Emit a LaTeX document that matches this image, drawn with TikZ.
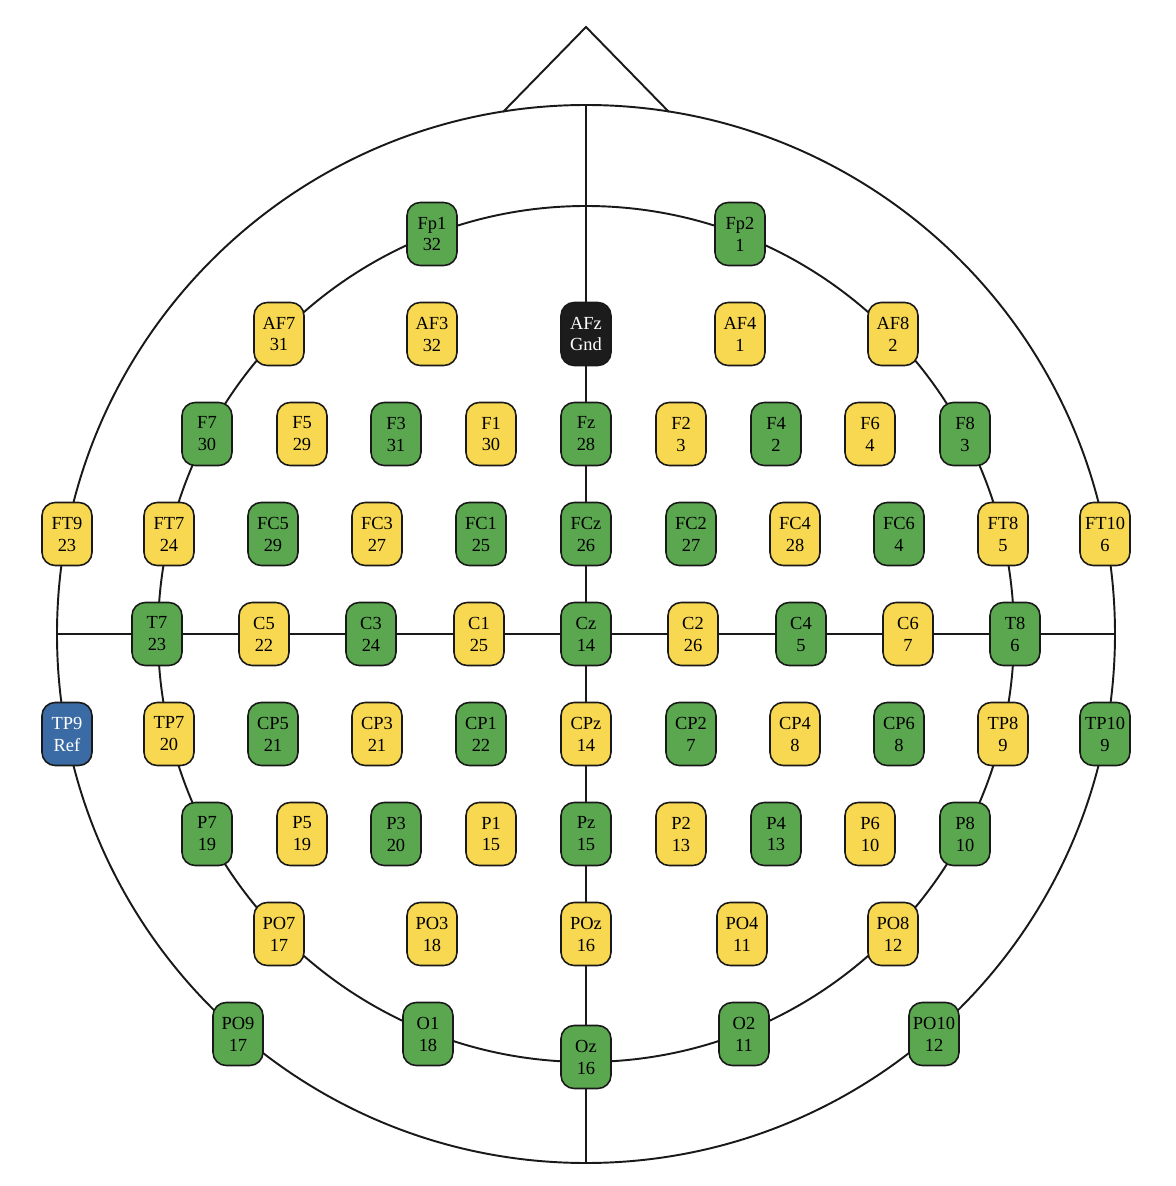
\documentclass[tikz,border=0pt]{standalone}
\usepackage{fontspec}
\setmainfont{Liberation Serif}
\usetikzlibrary{positioning}
\definecolor{elecgreen}{HTML}{5BA750}
\definecolor{elecyellow}{HTML}{F8D850}
\definecolor{elecblue}{HTML}{3A6BA4}
\definecolor{elecblack}{HTML}{1C1C1C}

\begin{document}
\begin{tikzpicture}[x=2cm, y=2cm,
    % Elettrodi
    ampa/.style={rectangle, draw=black!90, fill=elecgreen, line width=0.9pt, minimum width=1cm, minimum height=1.26cm, rounded corners=7.5pt, align=center, inner sep=1pt, font=\fontsize{10.5}{12.5}\selectfont},
    ampb/.style={rectangle, draw=black!90, fill=elecyellow, line width=0.9pt, minimum width=1cm, minimum height=1.26cm, rounded corners=7.5pt, align=center, inner sep=1pt, font=\fontsize{10.5}{12.5}\selectfont},
    gnd/.style={rectangle, draw=black!90, fill=elecblack, text=white, line width=0.9pt, minimum width=1cm, minimum height=1.26cm, rounded corners=7.5pt, align=center, inner sep=1pt, font=\fontsize{10.5}{12.5}\selectfont},
    ref/.style={rectangle, draw=black!90, fill=elecblue, text=white, line width=0.9pt, minimum width=1cm, minimum height=1.26cm, rounded corners=7.5pt, align=center, inner sep=1pt, font=\fontsize{10.5}{12.5}\selectfont},
    % Linee
    head/.style={line width=1.1pt, draw=black!90}
]

\useasboundingbox (-5.86,-5.52) rectangle (5.90,6.34);

% === CONTORNO TESTA ===
\coordinate (top) at (0,5.29);
\coordinate (bottom) at (0,-5.29);
\coordinate (left) at (-5.29,0);
\coordinate (right) at (5.29,0);
\coordinate (nose_l) at (-0.83,5.22);
\coordinate (nose) at (0,6.07);
\coordinate (nose_r) at (0.83,5.22);

\draw[head] (0,0) circle (5.29);
\draw[head] (0,0) circle (4.28);
\draw[head] (top) -- (bottom);
\draw[head] (left) -- (right);
\draw[head] (nose_l) -- (nose) -- (nose_r);

% === FILA Fp ===
\node[ampa] (fp1) at (-1.54,4) {Fp1\\32};
\node[ampa] (fp2) at (1.54,4) {Fp2\\1};

% === FILA AF ===
\node[ampb] (af7) at (-3.07,3) {AF7\\31};
\node[ampb] (af3) at (-1.54,3) {AF3\\32};
\node[gnd] (afz) at (0,3) {AFz\\Gnd};
\node[ampb] (af4) at (1.54,3) {AF4\\1};
\node[ampb] (af8) at (3.07,3) {AF8\\2};

% === FILA F ===
\node[ampa] (f7) at (-3.79,2) {F7\\30};
\node[ampb] (f5) at (-2.84,2) {F5\\29};
\node[ampa] (f3) at (-1.90,2) {F3\\31};
\node[ampb] (f1) at (-0.95,2) {F1\\30};
\node[ampa] (fz) at (0,2) {Fz\\28};
\node[ampb] (f2) at (0.95,2) {F2\\3};
\node[ampa] (f4) at (1.90,2) {F4\\2};
\node[ampb] (f6) at (2.84,2) {F6\\4};
\node[ampa] (f8) at (3.79,2) {F8\\3};

% === FILA FC / FT ===
\node[ampb] (ft9) at (-5.19,1) {FT9\\23};
\node[ampb] (ft7) at (-4.17,1) {FT7\\24};
\node[ampa] (fc5) at (-3.13,1) {FC5\\29};
\node[ampb] (fc3) at (-2.09,1) {FC3\\27};
\node[ampa] (fc1) at (-1.05,1) {FC1\\25};
\node[ampa] (fcz) at (0,1) {FCz\\26};
\node[ampa] (fc2) at (1.05,1) {FC2\\27};
\node[ampb] (fc4) at (2.09,1) {FC4\\28};
\node[ampa] (fc6) at (3.13,1) {FC6\\4};
\node[ampb] (ft8) at (4.17,1) {FT8\\5};
\node[ampb] (ft10) at (5.19,1) {FT10\\6};

% === FILA C / T ===
\node[ampa] (t7) at (-4.29,0) {T7\\23};
\node[ampb] (c5) at (-3.22,0) {C5\\22};
\node[ampa] (c3) at (-2.15,0) {C3\\24};
\node[ampb] (c1) at (-1.07,0) {C1\\25};
\node[ampa] (cz) at (0,0) {Cz\\14};
\node[ampb] (c2) at (1.07,0) {C2\\26};
\node[ampa] (c4) at (2.15,0) {C4\\5};
\node[ampb] (c6) at (3.22,0) {C6\\7};
\node[ampa] (t8) at (4.29,0) {T8\\6};

% === FILA CP / TP ===
\node[ref] (tp9) at (-5.19,-1) {TP9\\Ref};
\node[ampb] (tp7) at (-4.17,-1) {TP7\\20};
\node[ampa] (cp5) at (-3.13,-1) {CP5\\21};
\node[ampb] (cp3) at (-2.09,-1) {CP3\\21};
\node[ampa] (cp1) at (-1.05,-1) {CP1\\22};
\node[ampb] (cpz) at (0,-1) {CPz\\14};
\node[ampa] (cp2) at (1.05,-1) {CP2\\7};
\node[ampb] (cp4) at (2.09,-1) {CP4\\8};
\node[ampa] (cp6) at (3.13,-1) {CP6\\8};
\node[ampb] (tp8) at (4.17,-1) {TP8\\9};
\node[ampa] (tp10) at (5.19,-1) {TP10\\9};

% === FILA P ===
\node[ampa] (p7) at (-3.79,-2) {P7\\19};
\node[ampb] (p5) at (-2.84,-2) {P5\\19};
\node[ampa] (p3) at (-1.90,-2) {P3\\20};
\node[ampb] (p1) at (-0.95,-2) {P1\\15};
\node[ampa] (pz) at (0,-2) {Pz\\15};
\node[ampb] (p2) at (0.95,-2) {P2\\13};
\node[ampa] (p4) at (1.90,-2) {P4\\13};
\node[ampb] (p6) at (2.84,-2) {P6\\10};
\node[ampa] (p8) at (3.79,-2) {P8\\10};

% === FILA PO ===
\node[ampb] (po7) at (-3.07,-3) {PO7\\17};
\node[ampb] (po3) at (-1.54,-3) {PO3\\18};
\node[ampb] (poz) at (0,-3) {POz\\16};
\node[ampb] (po4) at (1.56,-3) {PO4\\11};
\node[ampb] (po8) at (3.07,-3) {PO8\\12};

% === FILA O ===
\node[ampa] (po9) at (-3.48,-4) {PO9\\17};
\node[ampa] (o1) at (-1.58,-4) {O1\\18};
\node[ampa] (oz) at (0,-4.23) {Oz\\16};
\node[ampa] (o2) at (1.58,-4) {O2\\11};
\node[ampa] (po10) at (3.48,-4) {PO10\\12};

\end{tikzpicture}
\end{document}
